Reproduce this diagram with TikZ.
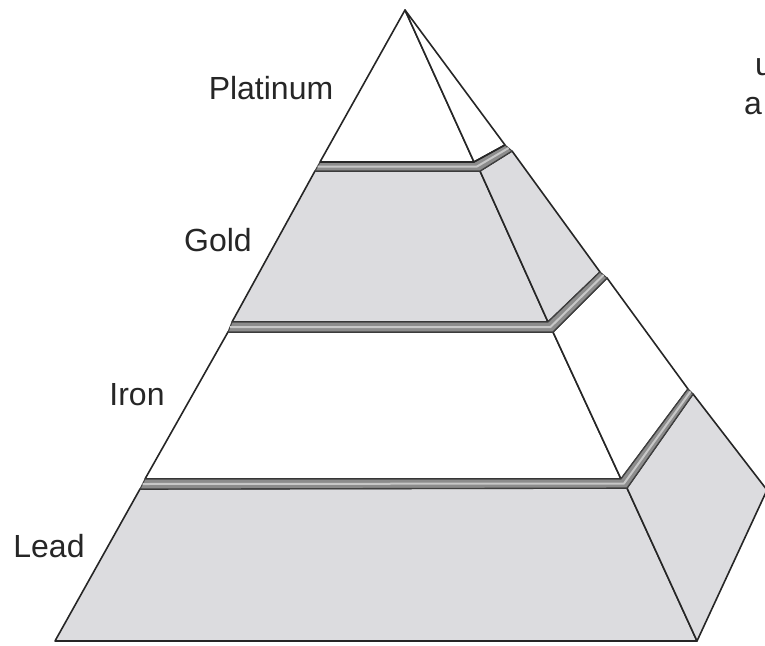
\documentclass[tikz,border=0pt]{standalone}
\usepackage{fontspec}
\setmainfont{Liberation Sans}
\usepackage{tikz}
\usetikzlibrary{calc}
\definecolor{pyrgray}{RGB}{220,220,223}
\tikzset{
    face/.style={draw=black!85, line width=1.6pt, line join=round, fill=white},
    shaded/.style={face, fill=pyrgray},
    ledge/.style={draw=black!75, line width=1.1pt, line join=round, fill=black!45},
    ledgemid/.style={draw=black!22, line width=2pt, line join=round},
    level/.style={font=\fontsize{32}{32}\selectfont, text=black!85}
}

\begin{document}
\begin{tikzpicture}[x=1pt,y=-1pt]
    \useasboundingbox (0,0) rectangle (765,645);

    % corners, level by level
    \coordinate (A) at (405,10);
    \coordinate (PL) at (320,162);  \coordinate (PR) at (474,162);  \coordinate (PB) at (505,145);
    \coordinate (GTL) at (315,171); \coordinate (GTR) at (480,171); \coordinate (GTB) at (512,151);
    \coordinate (GBL) at (232,322); \coordinate (GBR) at (548,322); \coordinate (GBB) at (600,272);
    \coordinate (ITL) at (228,332); \coordinate (ITR) at (553,332); \coordinate (ITB) at (607,278);
    \coordinate (IBL) at (145,479); \coordinate (IBR) at (621,479); \coordinate (IBB) at (688,389);
    \coordinate (LTL) at (140,489); \coordinate (LTR) at (627,488); \coordinate (LTB) at (693,394);
    \coordinate (LBL) at (55,641);  \coordinate (LBR) at (697,641); \coordinate (LSR) at (767,490);

    % lead
    \filldraw[shaded] (LTL) -- (LTR) -- (LBR) -- (LBL) -- cycle;
    \filldraw[shaded] (LTR) -- (LTB) -- (LSR) -- (LBR) -- cycle;
    % iron
    \filldraw[face] (ITL) -- (ITR) -- (IBR) -- (IBL) -- cycle;
    \filldraw[face] (ITR) -- (ITB) -- (IBB) -- (IBR) -- cycle;
    % gold
    \filldraw[shaded] (GTL) -- (GTR) -- (GBR) -- (GBL) -- cycle;
    \filldraw[shaded] (GTR) -- (GTB) -- (GBB) -- (GBR) -- cycle;
    % platinum
    \filldraw[face] (A) -- (PR) -- (PL) -- cycle;
    \filldraw[face] (A) -- (PB) -- (PR) -- cycle;

    % ledges between the levels
    \filldraw[ledge] (PL) -- (PR) -- (PB) -- (GTB) -- (GTR) -- (GTL) -- cycle;
    \draw[ledgemid] ($(PL)!0.5!(GTL)$) -- ($(PR)!0.5!(GTR)$) -- ($(PB)!0.5!(GTB)$);
    \filldraw[ledge] (GBL) -- (GBR) -- (GBB) -- (ITB) -- (ITR) -- (ITL) -- cycle;
    \draw[ledgemid] ($(GBL)!0.5!(ITL)$) -- ($(GBR)!0.5!(ITR)$) -- ($(GBB)!0.5!(ITB)$);
    \filldraw[ledge] (IBL) -- (IBR) -- (IBB) -- (LTB) -- (LTR) -- (LTL) -- cycle;
    \draw[ledgemid] ($(IBL)!0.5!(LTL)$) -- ($(IBR)!0.5!(LTR)$) -- ($(IBB)!0.5!(LTB)$);
    \draw[draw=black!85, line width=1.6pt] (PL) -- (PR) -- (PB);

    % labels
    \node[level] (platinum) at (271,88) {Platinum};
    \node[level] (gold) at (218,240) {Gold};
    \node[level] (iron) at (137,395) {Iron};
    \node[level] (lead) at (49,546) {Lead};
    \node[level] (cutu) at (764,67) {u};
    \node[level] (cuta) at (753,106) {a};
\end{tikzpicture}
\end{document}
